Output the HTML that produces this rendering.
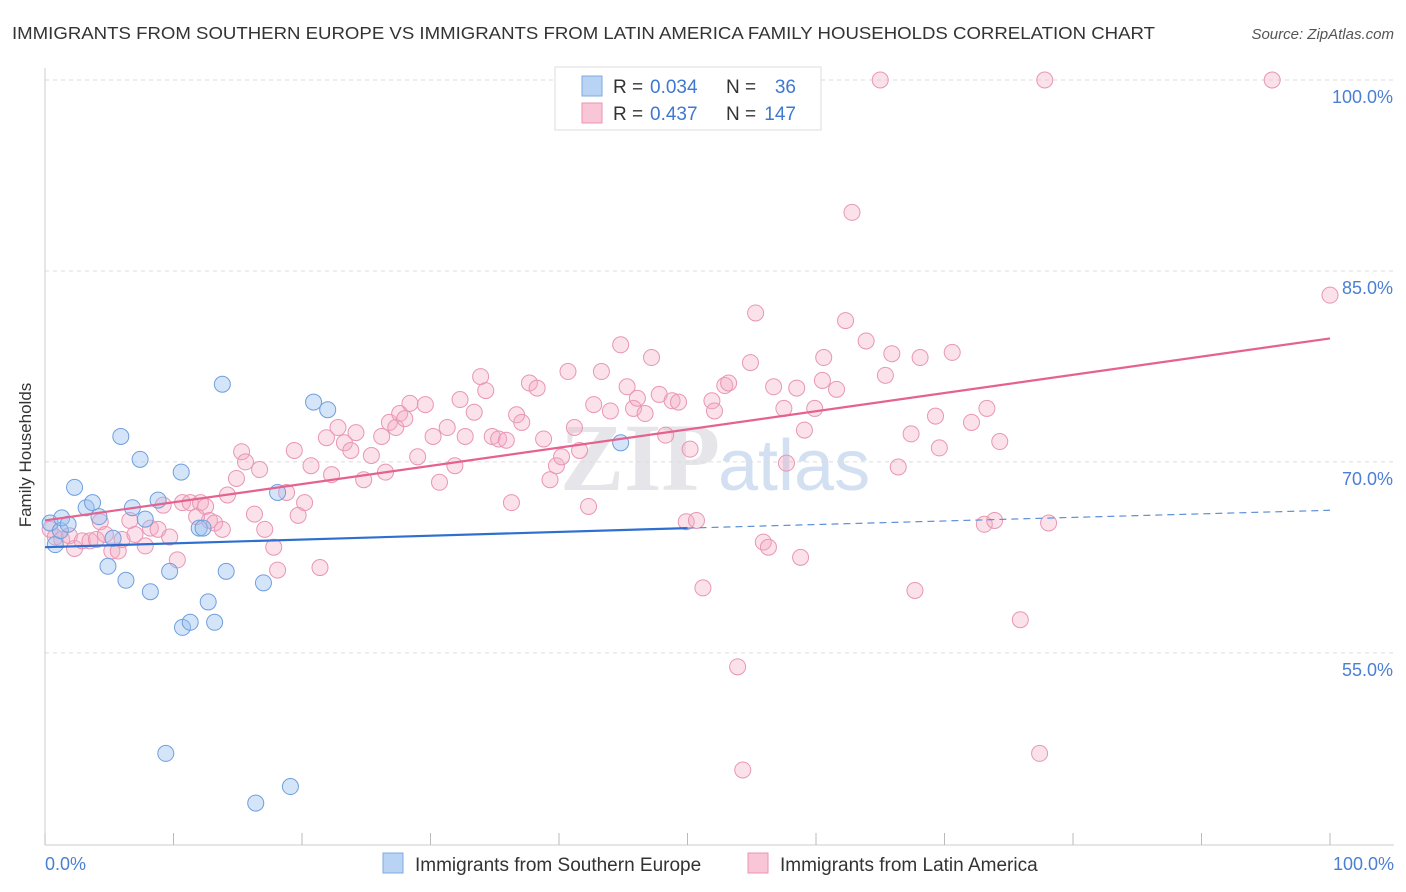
<!DOCTYPE html>
<html><head><meta charset="utf-8"><style>
body{margin:0;background:#fff;font-family:"Liberation Sans",sans-serif}
#wrap{position:relative;width:1406px;height:892px;overflow:hidden}
</style></head><body>
<div id="wrap">
<svg id="svg" width="1406" height="892" xmlns="http://www.w3.org/2000/svg">
<text x="12" y="39" font-size="17.5" fill="#333" textLength="1143" lengthAdjust="spacingAndGlyphs">IMMIGRANTS FROM SOUTHERN EUROPE VS IMMIGRANTS FROM LATIN AMERICA FAMILY HOUSEHOLDS CORRELATION CHART</text>
<text x="1394" y="39" font-size="15" fill="#555" font-style="italic" text-anchor="end">Source: ZipAtlas.com</text>
<text x="720" y="490" font-size="96" fill="#e6e6ea" text-anchor="end" font-family="Liberation Serif,serif" font-weight="bold">ZIP</text>
<text x="718" y="490" font-size="72" fill="#d3e0f2">atlas</text>
<g id="grid"></g><g id="marks"></g>
<text x="31" y="455" font-size="17" fill="#333" text-anchor="middle" transform="rotate(-90 31 455)">Family Households</text>
<text x="45" y="870" font-size="18" fill="#4a7fd4">0.0%</text>
<text x="1394" y="870" font-size="18" fill="#4a7fd4" text-anchor="end">100.0%</text>
<g>
<rect x="555" y="67" width="266" height="63" fill="#fff" stroke="#ddd"/>
<rect x="582" y="76" width="20" height="20" fill="#b9d3f5" stroke="#7ea8e0"/>
<rect x="582" y="103" width="20" height="20" fill="#f8c6d6" stroke="#eb93b2"/>
<text x="613" y="93" font-size="19" fill="#333">R =</text><text x="650" y="93" font-size="19" fill="#3f78d0">0.034</text>
<text x="726" y="93" font-size="19" fill="#333">N =</text><text x="796" y="93" font-size="19" fill="#3f78d0" text-anchor="end">36</text>
<text x="613" y="120" font-size="19" fill="#333">R =</text><text x="650" y="120" font-size="19" fill="#3f78d0">0.437</text>
<text x="726" y="120" font-size="19" fill="#333">N =</text><text x="796" y="120" font-size="19" fill="#3f78d0" text-anchor="end">147</text>
</g>
<g>
<rect x="383" y="853" width="20" height="20" fill="#b9d3f5" stroke="#7ea8e0"/>
<text x="415" y="871" font-size="19" fill="#333">Immigrants from Southern Europe</text>
<rect x="748" y="853" width="20" height="20" fill="#f8c6d6" stroke="#eb93b2"/>
<text x="780" y="871" font-size="19" fill="#333">Immigrants from Latin America</text>
</g>
</svg>
</div>
<script>
const yTicks=[55,70,85,100];
const yTickLabels=["55.0%","70.0%","85.0%","100.0%"];
const xTicks=[0,10,20,30,40,50,60,70,80,90,100];
const blueX=[0.4,0.8,1.2,1.3,1.8,2.3,3.2,3.7,4.2,4.9,5.3,5.9,6.3,6.8,7.4,7.8,8.2,8.8,9.4,9.7,10.6,10.7,11.3,12.0,12.3,12.7,13.2,13.8,14.1,16.4,17.0,18.1,19.1,20.9,22.0,44.8];
const blueY=[65.2,63.5,64.6,65.6,65.1,68.0,66.4,66.8,65.7,61.8,64.0,72.0,60.7,66.4,70.2,65.5,59.8,67.0,47.1,61.4,69.2,57.0,57.4,64.8,64.8,59.0,57.4,76.1,61.4,43.2,60.5,67.6,44.5,74.7,74.1,71.5];
const pinkX=[0.4,0.8,1.3,1.9,2.3,2.9,3.5,4.0,4.3,4.7,5.2,5.7,6.0,6.6,7.0,7.8,8.2,8.8,9.2,9.7,10.3,10.7,11.3,11.8,12.1,12.5,12.8,13.2,13.8,14.2,14.9,15.3,15.6,16.3,16.7,17.1,17.8,18.1,18.8,19.4,19.7,20.2,20.7,21.4,21.9,22.3,22.8,23.3,23.8,24.2,24.8,25.4,26.2,26.5,26.8,27.3,27.6,28.0,28.4,29.0,29.6,30.2,30.7,31.3,31.9,32.3,32.7,33.4,33.9,34.3,34.8,35.3,35.9,36.3,36.7,37.1,37.7,38.3,38.8,39.3,39.8,40.2,40.7,41.2,41.6,42.3,42.7,43.3,44.0,44.8,45.3,45.8,46.1,46.7,47.2,47.8,48.3,48.8,49.3,49.9,50.2,50.7,51.2,51.9,52.1,52.9,53.2,53.9,54.3,54.9,55.3,55.9,56.3,56.7,57.5,57.7,58.5,58.8,59.1,59.9,60.5,60.6,61.6,62.3,62.8,63.9,65.0,65.4,65.9,66.4,67.4,67.7,68.1,69.3,69.6,70.6,72.1,73.1,73.3,73.9,74.3,75.9,77.4,77.8,78.1,95.5,100];
const pinkY=[64.7,64.1,63.9,64.2,63.2,63.8,63.8,63.9,65.3,64.3,63.0,63.0,63.9,65.4,64.3,63.4,64.8,64.7,66.6,64.1,62.3,66.8,66.8,65.7,66.8,66.5,65.4,65.2,64.7,67.4,68.7,70.8,70.0,65.9,69.4,64.7,63.3,61.5,67.6,70.9,65.8,66.8,69.7,61.7,71.9,69.0,72.7,71.5,70.9,72.3,68.6,70.5,72.0,69.2,73.1,72.7,73.8,73.4,74.6,70.4,74.5,72.0,68.4,72.7,69.7,74.9,72.0,73.9,76.7,75.6,72.0,71.8,71.7,66.8,73.7,73.1,76.2,75.8,71.8,68.6,69.7,70.4,77.1,72.7,70.9,66.5,74.5,77.1,74.0,79.2,75.9,74.2,75.0,73.8,78.2,75.3,72.1,74.8,74.7,65.3,71.0,65.4,60.1,74.8,74.0,76.0,76.2,53.9,45.8,77.8,81.7,63.7,63.3,75.9,74.2,69.9,75.8,62.5,72.5,74.2,76.4,78.2,75.7,81.1,89.6,79.5,100,76.8,78.5,69.6,72.2,59.9,78.2,73.6,71.1,78.6,73.1,65.1,74.2,65.4,71.6,57.6,47.1,100,65.2,100,83.1];
const blueTrend=[63.3,64.8,66.2]; // at x=0,50,100
const pinkTrend=[65.4,79.7];     // at x=0,100
const X=v=>45+v*12.85, Y=v=>80+(100-v)*12.73;
const NS="http://www.w3.org/2000/svg";
const grid=document.getElementById('grid'), marks=document.getElementById('marks');
function mk(tag,attrs,parent){const e=document.createElementNS(NS,tag);for(const k in attrs)e.setAttribute(k,attrs[k]);parent.appendChild(e);return e;}
yTicks.forEach((t,i)=>{
 const l=mk('line',{x1:45,x2:1394,y1:Y(t),y2:Y(t),stroke:'#dcdcdc','stroke-dasharray':'4 4'},grid);
 
 
 const tx=mk('text',{x:1393,y:Y(t)+23,'font-size':18,fill:'#4a7fd4','text-anchor':'end'},grid);
 tx.textContent=yTickLabels[i];
 
 
});
const ax=mk('line',{x1:45,x2:45,y1:68,y2:845,stroke:'#ccc'},grid);


const bx=mk('line',{x1:45,x2:1394,y1:845,y2:845,stroke:'#ccc'},grid);


xTicks.forEach(t=>{
 const l=mk('line',{x1:X(t),x2:X(t),y1:833,y2:845,stroke:'#bbb'},grid);
 
 
});
pinkX.forEach((x,i)=>{
 const c=mk('circle',{cx:X(x),cy:Y(pinkY[i]),r:8,fill:'rgba(244,170,196,0.35)',stroke:'#e996b4','stroke-width':1},marks);
 
 
});
blueX.forEach((x,i)=>{
 const c=mk('circle',{cx:X(x),cy:Y(blueY[i]),r:8,fill:'rgba(150,190,240,0.4)',stroke:'#6f9fdc','stroke-width':1},marks);
 
 
});
const pl=mk('line',{x1:X(0),y1:Y(pinkTrend[0]),x2:X(100),y2:Y(pinkTrend[1]),stroke:'#e5628e','stroke-width':2.2},marks);


const bl=mk('line',{x1:X(0),y1:Y(blueTrend[0]),x2:X(50),y2:Y(blueTrend[1]),stroke:'#2f6fd0','stroke-width':2.2},marks);


const bd=mk('line',{x1:X(50),y1:Y(blueTrend[1]),x2:X(100),y2:Y(blueTrend[2]),stroke:'#5d8fd8','stroke-width':1.2,'stroke-dasharray':'7 5'},marks);


</script>
</body></html>
